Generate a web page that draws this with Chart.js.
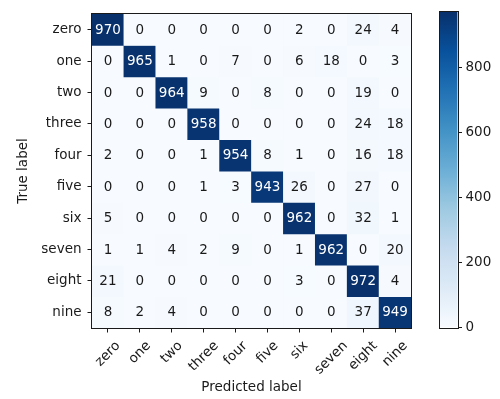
<!DOCTYPE html>
<html>
<head>
<meta charset="utf-8">
<script src="https://cdn.jsdelivr.net/npm/chart.js@4.4.1/dist/chart.umd.min.js"></script>
<style>
  html, body { margin: 0; padding: 0; background: #fff; }
  #wrap { position: relative; width: 500px; height: 399px; }
  #cm { position: absolute; left: 0; top: 0; }
  #cb { position: absolute; left: 420px; top: 0; }
</style>
</head>
<body>
<div id="wrap">
  <canvas id="cm" width="500" height="399"></canvas>
  <canvas id="cb" width="80" height="399"></canvas>
</div>
<script>
// Class names (same order for true and predicted labels)
const classNames = ['zero', 'one', 'two', 'three', 'four', 'five', 'six', 'seven', 'eight', 'nine'];

// Confusion counts, one array per true label (columns = predicted label)
const trueZero  = [970,   0,   0,   0,   0,   0,   2,   0,  24,   4];
const trueOne   = [  0, 965,   1,   0,   7,   0,   6,  18,   0,   3];
const trueTwo   = [  0,   0, 964,   9,   0,   8,   0,   0,  19,   0];
const trueThree = [  0,   0,   0, 958,   0,   0,   0,   0,  24,  18];
const trueFour  = [  2,   0,   0,   1, 954,   8,   1,   0,  16,  18];
const trueFive  = [  0,   0,   0,   1,   3, 943,  26,   0,  27,   0];
const trueSix   = [  5,   0,   0,   0,   0,   0, 962,   0,  32,   1];
const trueSeven = [  1,   1,   4,   2,   9,   0,   1, 962,   0,  20];
const trueEight = [ 21,   0,   0,   0,   0,   0,   3,   0, 972,   4];
const trueNine  = [  8,   2,   4,   0,   0,   0,   0,   0,  37, 949];

// Colorbar tick values
const colorbarTicks = [0, 200, 400, 600, 800];

const confusion = [trueZero, trueOne, trueTwo, trueThree, trueFour,
                   trueFive, trueSix, trueSeven, trueEight, trueNine];
const vmax = Math.max(...confusion.flat());

// "Blues" sequential colormap
const bluesStops = ['#f7fbff', '#deebf7', '#c6dbef', '#9ecae1', '#6baed6',
                    '#4292c6', '#2171b5', '#08519c', '#08306b'];
function hexRgb(h) {
  return [parseInt(h.slice(1, 3), 16), parseInt(h.slice(3, 5), 16), parseInt(h.slice(5, 7), 16)];
}
function blues(t) {
  t = Math.min(1, Math.max(0, t));
  const pos = t * (bluesStops.length - 1);
  const k = Math.min(bluesStops.length - 2, Math.floor(pos));
  const f = pos - k;
  const a = hexRgb(bluesStops[k]), b = hexRgb(bluesStops[k + 1]);
  const c = a.map((v, i) => Math.round(v + (b[i] - v) * f));
  return `rgb(${c[0]},${c[1]},${c[2]})`;
}

const FONT = "'DejaVu Sans', 'Liberation Sans', sans-serif";
const SIZE = 13.5;
const INK = '#1a1a1a';
Chart.defaults.font.family = FONT;
Chart.defaults.font.size = SIZE;
Chart.defaults.color = INK;
Chart.defaults.animation = false;

// Black frame around the plotting area
const frame = {
  id: 'frame',
  afterDraw(chart) {
    const { ctx, chartArea: a } = chart;
    ctx.save();
    ctx.strokeStyle = INK;
    ctx.lineWidth = 1;
    const l = Math.round(a.left) - 0.5, t = Math.round(a.top) - 0.5;
    const r = Math.round(a.right) + 0.5, b = Math.round(a.bottom) + 0.5;
    ctx.strokeRect(l, t, r - l, b - t);
    ctx.restore();
  }
};

// Count printed in each cell
const cellText = {
  id: 'cellText',
  afterDatasetsDraw(chart) {
    const { ctx, scales: { x, y } } = chart;
    ctx.save();
    ctx.font = `${SIZE}px ${FONT}`;
    ctx.textAlign = 'center';
    ctx.textBaseline = 'middle';
    confusion.forEach((row, i) => row.forEach((v, j) => {
      ctx.fillStyle = v > vmax / 2 ? '#ffffff' : INK;
      ctx.fillText(String(v), x.getPixelForValue(j), y.getPixelForValue(i) + 0.5);
    }));
    ctx.restore();
  }
};

// Predicted-label names, rotated 45 degrees and centred under each tick
const xLabels = {
  id: 'xLabels',
  afterDraw(chart) {
    const { ctx, chartArea: a, scales: { x } } = chart;
    ctx.save();
    ctx.font = `${SIZE}px ${FONT}`;
    ctx.fillStyle = INK;
    ctx.textAlign = 'center';
    ctx.textBaseline = 'middle';
    const top = a.bottom + 11.5;
    classNames.forEach((name, j) => {
      const w = ctx.measureText(name).width;
      const half = (w + 12) * Math.SQRT1_2 / 2;
      ctx.save();
      ctx.translate(x.getPixelForValue(j), top + half);
      ctx.rotate(-Math.PI / 4);
      ctx.fillText(name, 0, 0);
      ctx.restore();
    });
    ctx.restore();
  }
};

// One floating-bar dataset per true label; each bar spans one row of cells
const datasets = confusion.map((row, i) => ({
  data: row.map(() => [i - 0.5, i + 0.5]),
  backgroundColor: row.map(v => blues(v / vmax)),
  borderWidth: 0,
  borderSkipped: false,
  grouped: false,
  categoryPercentage: 1,
  barPercentage: 1
}));

new Chart(document.getElementById('cm'), {
  type: 'bar',
  data: { labels: classNames, datasets },
  options: {
    responsive: false,
    animation: false,
    layout: { padding: { left: 0, top: 7, right: 89, bottom: 0 } },
    plugins: { legend: { display: false }, tooltip: { enabled: false } },
    scales: {
      x: {
        type: 'category',
        offset: true,
        grid: { display: true, offset: false, drawOnChartArea: false, drawTicks: true, tickLength: 4.5, color: INK },
        border: { display: false },
        ticks: { display: false },
        title: { display: true, text: 'Predicted label', color: INK, font: { size: SIZE }, padding: { top: 0, bottom: 3 } },
        afterFit: s => { s.height = 71; }
      },
      y: {
        type: 'linear',
        reverse: true,
        min: -0.5,
        max: 9.5,
        afterBuildTicks: s => { s.ticks = classNames.map((_, i) => ({ value: i })); },
        ticks: { callback: v => classNames[v], padding: 6, autoSkip: false, color: INK },
        grid: { drawOnChartArea: false, tickLength: 4.5, color: INK },
        border: { display: false },
        title: { display: true, text: 'True label', color: INK, font: { size: SIZE }, padding: { top: 15.5, bottom: 0 } },
        afterFit: s => { s.width = 92; }
      }
    }
  },
  plugins: [cellText, xLabels, frame]
});

// Colorbar
new Chart(document.getElementById('cb'), {
  type: 'bar',
  data: {
    labels: [''],
    datasets: [{
      data: [[0, vmax]],
      backgroundColor: c => {
        const a = c.chart.chartArea;
        if (!a) return blues(0.5);
        const g = c.chart.ctx.createLinearGradient(0, a.bottom, 0, a.top);
        bluesStops.forEach((col, k) => g.addColorStop(k / (bluesStops.length - 1), col));
        return g;
      },
      borderWidth: 0,
      categoryPercentage: 1,
      barPercentage: 1
    }]
  },
  options: {
    responsive: false,
    animation: false,
    layout: { padding: { left: 19.5, top: 7, right: 0, bottom: 71.5 } },
    plugins: { legend: { display: false }, tooltip: { enabled: false } },
    scales: {
      x: { display: false },
      y: {
        position: 'right',
        min: 0,
        max: vmax,
        afterBuildTicks: s => { s.ticks = colorbarTicks.map(v => ({ value: v })); },
        ticks: { padding: 3.5, color: INK },
        grid: { drawOnChartArea: false, tickLength: 4.5, color: INK },
        border: { display: false },
        afterFit: s => { s.width = 80 - 19.5 - 18; }
      }
    }
  },
  plugins: [frame]
});
</script>
</body>
</html>
